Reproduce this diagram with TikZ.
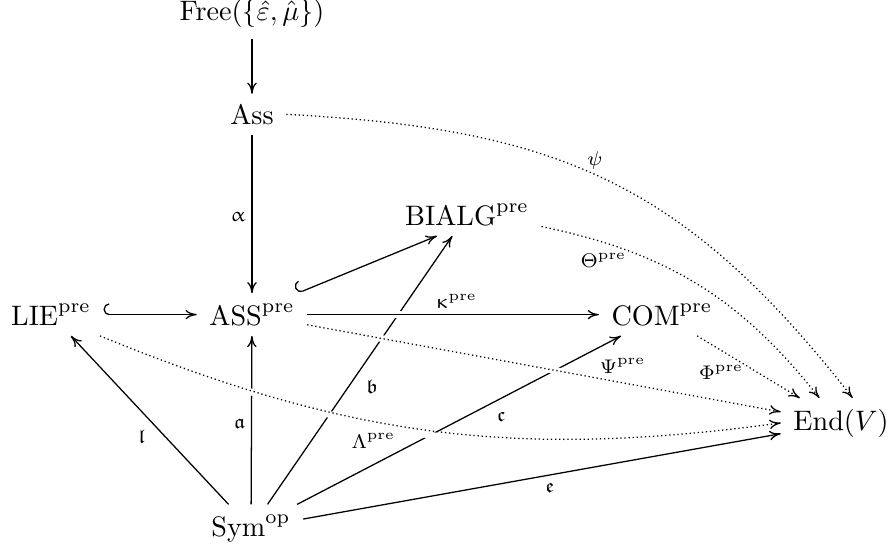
\documentclass[tikz,border=0pt]{standalone}
\usepackage{amssymb}
\usepackage[Euler]{upgreek}
\usetikzlibrary{arrows.meta,calc}
\begin{document}
\begin{tikzpicture}[x=0.355pt,y=-0.355pt,
  obj/.style={inner xsep=1ex, inner ysep=0.85ex, anchor=base},
  lbl/.style={inner sep=0pt},
  tipstyle/.style={line width=0.45pt},
  arr/.style={-{Computer Modern Rightarrow[length=4pt,width=3.4pt]}, tipstyle},
  hookarr/.style={{Hooks[right,width=8pt,length=2pt]}-{Computer Modern Rightarrow[length=4pt,width=3.4pt]}, tipstyle},
  dotarr/.style={arr, densely dotted},
  gap/.style={preaction={draw=white, line width=2.4pt, solid, -, shorten <=6pt, shorten >=40pt}}
]
\useasboundingbox (0,0) rectangle (895,548);
\node[obj] (free) at (252,21) {$\mathrm{Free}(\{\hat{\varepsilon},\hat{\mu}\})$};
\node[obj] (ass) at (252,124) {$\mathrm{Ass}$};
\node[obj] (asspre) at (252,325) {$\mathrm{ASS}^{\mathrm{pre}}$};
\node[obj] (lie) at (51,325) {$\mathrm{LIE}^{\mathrm{pre}}$};
\node[obj] (bialg) at (467,225) {$\mathrm{BIALG}^{\mathrm{pre}}$};
\node[obj] (com) at (662,325) {$\mathrm{COM}^{\mathrm{pre}}$};
\node[obj] (end) at (841,430) {$\mathrm{End}(V)$};
\node[obj] (sym) at (251,536) {$\mathrm{Sym}^{\mathrm{op}}$};

\draw[arr] (free) -- (ass);
\draw[arr] (ass) -- node[lbl, pos=0.52, shift={(-14,0)}] {$\scriptstyle\upalpha$} (asspre);
\draw[hookarr] (lie) -- (asspre);
\draw[hookarr] ($(asspre.north east)+(-10,0)$) -- ($(bialg.south)+(-30,0)$);

\draw[arr] (sym) -- node[lbl,pos=0.48,shift={(-12,0)}] {$\scriptstyle\mathfrak{a}$} (asspre);
\draw[arr] (sym) -- node[lbl,pos=0.4,shift={(-24,0)}] {$\scriptstyle\mathfrak{l}$} (lie);
\draw[arr] (sym) -- node[lbl,pos=0.44,shift={(23,0)}] {$\scriptstyle\mathfrak{b}$} (bialg);
\draw[arr] (sym) -- node[lbl,pos=0.62,shift={(3,17)}] {$\scriptstyle\mathfrak{c}$} (com);
\draw[arr] (sym) -- node[lbl,pos=0.51,shift={(3,12)}] {$\scriptstyle\mathfrak{e}$} (end);

\draw[arr,gap] (asspre) -- node[lbl,pos=0.51,shift={(0,-13)}] {$\scriptstyle\upkappa^{\mathrm{pre}}$} (com);
\draw[dotarr,gap] (asspre) -- node[lbl,pos=0.666,shift={(0,-17)}] {$\scriptstyle\Psi^{\mathrm{pre}}$} (end);
\draw[dotarr,gap] (lie) to[bend right=15] node[lbl,pos=0.4,shift={(3,20)}] {$\scriptstyle\Lambda^{\mathrm{pre}}$} (end.west);
\draw[dotarr] (com) -- node[lbl,pos=0.33,shift={(-10,16)}] {$\scriptstyle\Phi^{\mathrm{pre}}$} (end);
\draw[dotarr] (bialg) to[bend left=20] node[lbl,pos=0.18,shift={(-1,18)}] {$\scriptstyle\Theta^{\mathrm{pre}}$} (end);
\draw[dotarr] (ass.east) to[out=-3,in=128,looseness=1.1] node[lbl,pos=0.47,shift={(2,-13)}] {$\scriptstyle\psi$} (end.65);
\end{tikzpicture}
\end{document}
